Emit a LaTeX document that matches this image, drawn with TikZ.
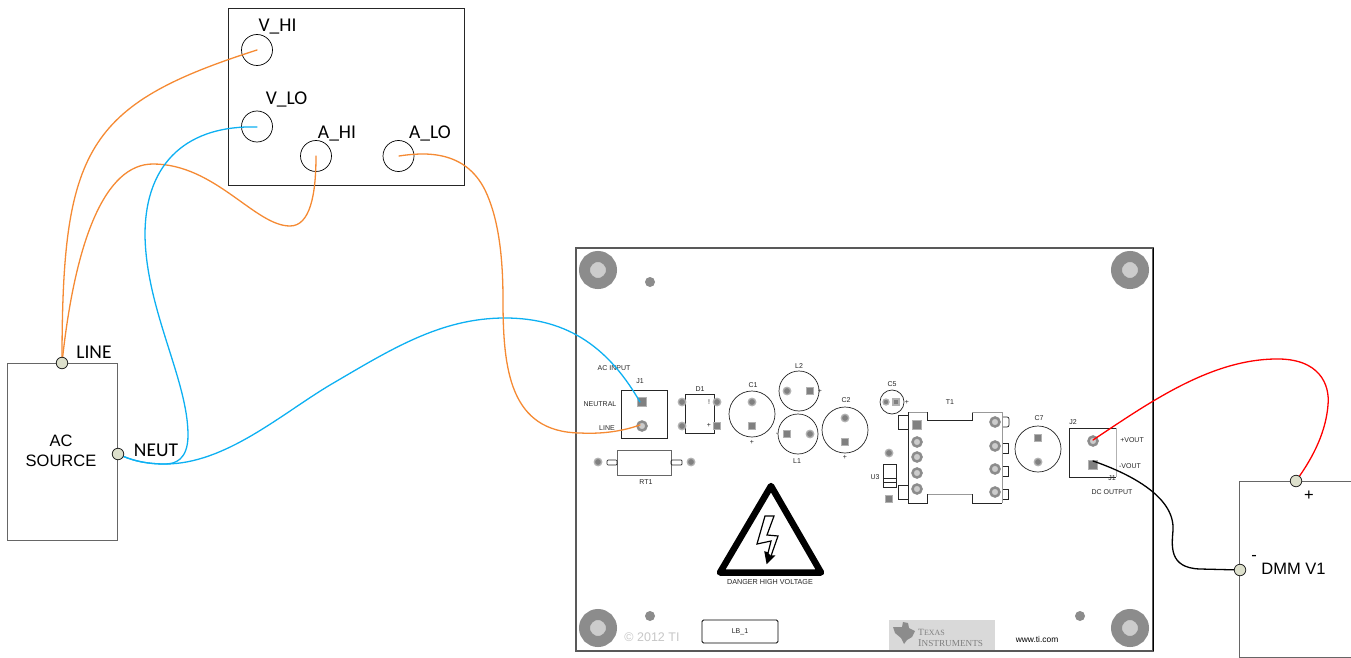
\documentclass[tikz,border=0pt]{standalone}
\usepackage{fontspec}
\setmainfont{Carlito}
\newfontfamily\arialf{Liberation Sans}
\newfontfamily\serifsc{Liberation Serif}
\definecolor{wireorange}{HTML}{F58A33}
\definecolor{wireblue}{HTML}{0DB0F2}
\definecolor{termfill}{HTML}{DDE0CC}
\tikzset{
 x=1pt,y=-1pt,
 box/.style={draw=black!85,line width=0.9pt,fill=white,inner sep=0pt},
 gbox/.style={draw=black!60,line width=1pt},
 jack/.style={circle,draw=black,line width=0.7pt,fill=white,minimum size=#1,inner sep=0pt},
 term/.style={circle,draw=black!85,line width=0.8pt,fill=termfill,minimum size=11.5pt,inner sep=0pt},
 lab/.style={font=\fontsize{19.5}{20}\selectfont,inner sep=0pt},
 alab/.style={font=\arialf\fontsize{16.5}{20}\selectfont,inner sep=0pt,align=center},
 wire/.style={line width=1.3pt,line cap=round},
 org/.style={wire,draw=wireorange},
 blu/.style={wire,draw=wireblue},
 pt/.style={font=\arialf\fontsize{7}{7}\selectfont,inner sep=0pt,text=black!85},
 pcb/.style={draw=black!85,line width=0.7pt},
 rpad/.style={circle,draw=black!30,line width=1.3pt,fill=black!50,minimum size=7.5pt,inner sep=0pt},
 spad/.style={rectangle,draw=black!30,line width=1.3pt,fill=black!50,minimum size=7.5pt,inner sep=0pt},
 bigrpad/.style={circle,draw=black!45,line width=2.5pt,fill=black!20,minimum size=9pt,inner sep=0pt},
 hole/.style={circle,draw=black!45,line width=11pt,fill=black!20,minimum size=27pt,inner sep=0pt},
 dot/.style={circle,fill=black!45,minimum size=10pt,inner sep=0pt},
 tilogo/.style={font=\serifsc\fontsize{9.5}{9.5}\selectfont,text=black!50,inner sep=0pt,anchor=west},
}
\begin{document}
\begin{tikzpicture}
\useasboundingbox (0,0) rectangle (1351,658);
% board
\draw[draw=black!65,line width=1.6pt,fill=white] (576,248) rectangle (1153,651);
\draw[black,line width=1pt] (1153,248) -- (1153,651);
\node[hole] (h1) at (598,270) {};
\node[hole] (h2) at (1130,270) {};
\node[hole] (h3) at (598,628) {};
\node[hole] (h4) at (1130,628) {};
\node[dot] (d1) at (650,282) {};
\node[dot] (d2) at (650,616) {};
\node[dot] (d3) at (1080,616) {};
% J1
\draw[pcb] (621,390) rectangle (667,438);
\node[spad,minimum size=9pt] (j1a) at (642,402) {};
\node[bigrpad] (j1b) at (642,426) {};
\node[pt] (t1) at (614,368) {AC INPUT};
\node[pt] (t2) at (640,381) {J1};
\node[pt] (t3) at (600,404) {NEUTRAL};
\node[pt] (t4) at (607,428) {LINE};
% D1
\draw[pcb] (685,394) rectangle (714,433);
\node[rpad] (p1) at (682,402) {};
\node[rpad] (p2) at (717,402) {};
\node[rpad] (p3) at (682,426) {};
\node[spad] (p4) at (717,426) {};
\node[pt] (t5) at (700,389) {D1};
\node[pt] (t5a) at (709,402) {!};
\node[pt] (t5b) at (709,425) {+};
% C1 L2 L1 C2
\node[circle,pcb,minimum size=46pt,inner sep=0pt] (c1) at (752,414) {};
\node[rpad] (p5) at (752,402) {};
\node[spad] (p6) at (752,426) {};
\node[pt] (t6) at (753,385) {C1};
\node[pt] (t6a) at (752,442) {+};
\node[circle,pcb,minimum size=40pt,inner sep=0pt] (l2) at (799,391) {};
\node[rpad] (p7) at (787,391) {};
\node[spad] (p8) at (810,391) {};
\node[pt] (t7) at (799,366) {L2};
\node[pt] (t7a) at (820,391) {+};
\node[circle,pcb,minimum size=40pt,inner sep=0pt] (l1) at (798,434) {};
\node[spad] (p9) at (787,434) {};
\node[rpad] (p10) at (810,434) {};
\node[pt] (t8) at (797,461) {L1};
\node[pt] (t8a) at (777,434) {-};
\node[circle,pcb,minimum size=46pt,inner sep=0pt] (c2) at (845,430) {};
\node[rpad] (p11) at (845,418) {};
\node[spad] (p12) at (845,442) {};
\node[pt] (t9) at (846,400) {C2};
\node[pt] (t9a) at (845,457) {+};
% RT1
\draw[draw=black!60,line width=0.7pt] (617,450) rectangle (671,475);
\draw[pcb,rounded corners=1pt] (607,460) rectangle (617,465);
\draw[pcb,rounded corners=1pt] (671,460) rectangle (682,465);
\node[rpad] (p13) at (598,462) {};
\node[rpad] (p14) at (691,462) {};
\node[pt] (t10) at (646,482) {RT1};
% C5
\node[circle,pcb,minimum size=24pt,inner sep=0pt] (c5) at (892,402) {};
\node[rpad,minimum size=6pt] (p15) at (886,402) {};
\node[spad,minimum size=6pt] (p16) at (896,402) {};
\node[pt] (t11) at (892,384) {C5};
\node[pt] (t11a) at (907,402) {+};
% T1
\draw[pcb] (898,415) rectangle (908,429);
\draw[pcb] (898,485) rectangle (908,499);
\draw[pcb] (1002,443) rectangle (1008,453);
\draw[pcb] (1002,466) rectangle (1008,476);
\draw[pcb] (1002,489) rectangle (1008,499);
\draw[pcb,rounded corners=2pt] (1002,417) -- (1009,417) -- (1009,427) -- (1002,427);
\draw[pcb] (927,412) -- (927,420) -- (972,420) -- (972,412);
\draw[draw=black!40,line width=0.6pt] (908,412) -- (927,412) (972,412) -- (1002,412) -- (1002,503) (927,494) -- (972,494);
\draw[pcb] (908,412) -- (908,503) -- (927,503) -- (927,494) (972,494) -- (972,503) -- (1002,503);
\node[spad,minimum size=9pt] (p17) at (917,425) {};
\node[bigrpad] (p18) at (917,442) {};
\node[bigrpad] (p19) at (917,457) {};
\node[bigrpad] (p20) at (917,473) {};
\node[bigrpad] (p21) at (917,489) {};
\node[bigrpad] (p22) at (995,422) {};
\node[bigrpad] (p23) at (995,446) {};
\node[bigrpad] (p24) at (995,469) {};
\node[bigrpad] (p25) at (995,492) {};
\node[pt] (t12) at (950,402) {T1};
% U3
\node[rpad] (p26) at (889,453) {};
\node[spad] (p27) at (889,499) {};
\draw[pcb] (883,464) rectangle (896,487);
\draw[pcb] (883,478) -- (896,478) (883,482) -- (896,482);
\node[pt] (t13) at (875,477) {U3};
% C7
\node[circle,pcb,minimum size=46pt,inner sep=0pt] (c7) at (1038,449) {};
\node[spad] (p28) at (1038,438) {};
\node[rpad] (p29) at (1038,462) {};
\node[pt] (t14) at (1039,418) {C7};
% J2
\draw[pcb] (1116,428) -- (1069,428) -- (1069,477) -- (1116,477);
\draw[draw=black!30,line width=0.6pt] (1116,428) -- (1116,477);
\node[bigrpad] (p30) at (1093,441) {};
\node[spad,minimum size=9pt] (p31) at (1093,465) {};
\node[pt] (t15) at (1073,422) {J2};
\node[pt] (t15a) at (1112,478.5) {J1};
\node[pt] (t16) at (1132,440) {+VOUT};
\node[pt] (t17) at (1130,466) {-VOUT};
\node[pt] (t18) at (1112,492) {DC OUTPUT};
% warning
\draw[black,line width=6.5pt,line join=round] (771,486) -- (720,572.5) -- (821,572.5) -- cycle;
\draw[black,fill=white,line width=1.2pt,line join=miter] (765,516) -- (774,516) -- (767,535) -- (778,536) -- (771,556) -- (774,556) -- (767,563) -- (765,552) -- (768,553) -- (771,541) -- (757,544) -- cycle;
\fill[black] (771,556) -- (774,556) -- (767,563) -- (765,552) -- (768,553) -- cycle;
\node[pt,font=\arialf\fontsize{7.2}{7}\selectfont] (t19) at (770,582) {DANGER HIGH VOLTAGE};
% bottom
\node[font=\arialf\fontsize{12.5}{12}\selectfont,text=black!22,inner sep=0pt] (t20) at (652,637) {\textcopyright\ 2012 TI};
\node[draw=black,line width=0.8pt,rounded corners=1.5pt,minimum width=76pt,minimum height=23pt,inner sep=0pt,pt] (lb) at (740,631.5) {LB\_1};
\fill[black!15] (889,620) rectangle (995,650);
\fill[black!45] (893,627) -- (902,627) -- (903,622) -- (908,623) -- (909,628) -- (915,631) -- (912,637) -- (907,640) -- (904,644) -- (901,638) -- (895,633) -- cycle;
\node[tilogo] (t21) at (918,632.5) {T\fontsize{8}{9}\selectfont EXAS};
\node[tilogo,font=\serifsc\fontsize{10.5}{9.5}\selectfont] (t21b) at (918,643.5) {I\fontsize{9.2}{9}\selectfont NSTRUMENTS};
\node[font=\arialf\fontsize{8.4}{8}\selectfont,inner sep=0pt] (t22) at (1037,639) {www.ti.com};
% instrument
\draw[box] (228,8.5) rectangle (464,185);
\node[jack=31pt] (vhi) at (257,50) {};
\node[jack=31pt] (vlo) at (257,126.5) {};
\node[jack=31pt] (ahi) at (316,156) {};
\node[jack=31pt] (alo) at (398.5,156) {};
\node[lab] (lvhi) at (277.5,26.5) {V\_HI};
\node[lab] (lvlo) at (286.5,99.5) {V\_LO};
\node[lab] (lahi) at (337,133.5) {A\_HI};
\node[lab] (lalo) at (430,133.5) {A\_LO};
% AC source
\draw[gbox] (7,363) rectangle (117,540);
\node[alab] (acs) at (61,451) {AC\\SOURCE};
% DMM
\draw[gbox] (1239,481) -- (1239,657) -- (1351,657) (1351,481) -- (1239,481);
\node[alab] (dmm) at (1293.5,569) {DMM V1};
\node[alab] (dp) at (1309,496) {+};
\node[alab] (dm) at (1254,558) {-};
\node[lab] (lline) at (94,352) {LINE};
\node[lab] (lneut) at (156,450) {NEUT};
% terminal positions
\coordinate (wvhi) at (257,50);
\coordinate (wvlo) at (257,127);
\coordinate (wahi) at (316,156);
\coordinate (walo) at (399,156);
\coordinate (wj1a) at (640,402);
\coordinate (wj1b) at (640,425);
\coordinate (wj2a) at (1093,440);
\coordinate (wj2b) at (1093,461);
\coordinate (wline) at (62,363);
\coordinate (wneut) at (118,454);
\coordinate (wdp) at (1296,481);
\coordinate (wdm) at (1240,570);
% wires
\draw[org] (wline) .. controls (62,150) and (85,105) .. (wvhi);
\draw[org] (wline) .. controls (75,240) and (105,164) .. (153,164) .. controls (215,164) and (255,226) .. (290,226) .. controls (310,226) and (316,195) .. (wahi);
\draw[blu] (wvlo) .. controls (190,125) and (145,160) .. (145,235) .. controls (146,310) and (188,380) .. (188,435) .. controls (188,460) and (175,464) .. (165,464) .. controls (145,464) and (130,460) .. (wneut);
\draw[blu] (wneut) .. controls (135,462) and (150,464) .. (165,464) .. controls (225,464) and (280,415) .. (330,385) .. controls (390,350) and (440,318) .. (505,318) .. controls (570,318) and (610,350) .. (wj1a);
\draw[org] (walo) .. controls (425,152) and (465,150) .. (485,190) .. controls (497,215) and (503,250) .. (503,300) .. controls (503,370) and (510,432) .. (580,433) .. controls (600,434) and (620,432) .. (wj1b);
\draw[wire,draw=red] (wj2a) .. controls (1150,402) and (1210,360) .. (1275,359) .. controls (1320,358) and (1330,385) .. (1328,405) .. controls (1326,430) and (1315,455) .. (wdp);
\draw[wire,draw=black] (wj2b) .. controls (1125,472) and (1175,495) .. (1173,530) .. controls (1172,545) and (1168,568) .. (1200,569) -- (wdm);
% terminals
\node[term] (tline) at (wline) {};
\node[term] (tneut) at (wneut) {};
\node[term] (tdp) at (wdp) {};
\node[term] (tdm) at (wdm) {};
\end{tikzpicture}
\end{document}
